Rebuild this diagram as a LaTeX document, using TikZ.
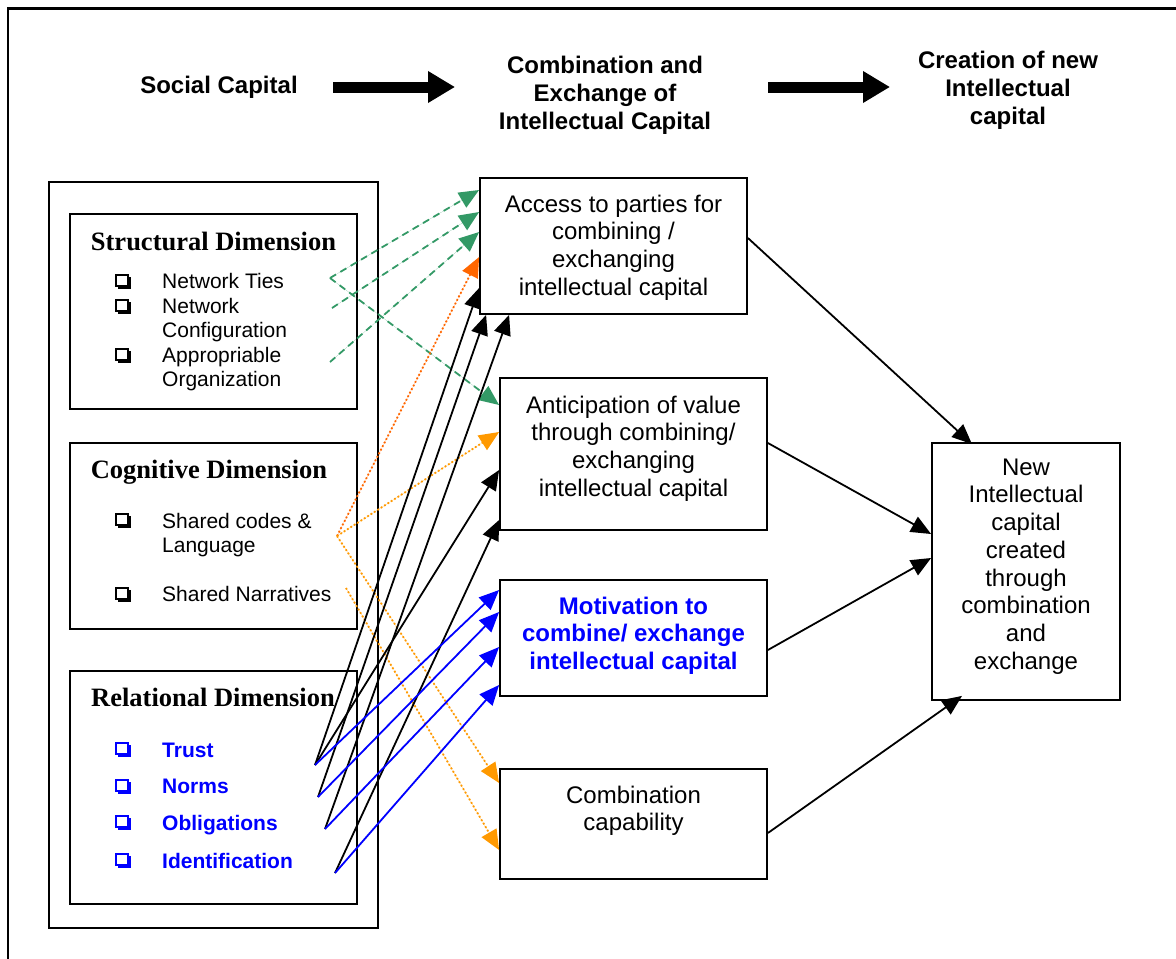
\documentclass[tikz,border=0pt]{standalone}
\usepackage{fontspec}
\setmainfont{Liberation Sans}
\newfontfamily\tmsfont{Liberation Serif}
\usetikzlibrary{arrows.meta,calc}

\definecolor{sgreen}{RGB}{51,153,102}
\definecolor{redorange}{RGB}{255,102,0}
\definecolor{lorange}{RGB}{255,153,0}
\definecolor{itemblue}{RGB}{0,0,255}

\begin{document}
\begin{tikzpicture}[x=1pt,y=-1pt,
  frame/.style={draw, line width=1.8pt, inner sep=0pt},
  hdr/.style={font=\fontsize{24}{28}\selectfont\bfseries, align=center, inner sep=0pt},
  btxt/.style={font=\fontsize{24}{27.7}\selectfont, align=center, inner sep=0pt, anchor=north},
  dimtitle/.style={font=\fontsize{26.5}{30}\selectfont\tmsfont\bfseries, inner sep=0pt, anchor=base},
  item/.style={font=\fontsize{21}{24.5}\selectfont, align=left, inner sep=0pt, anchor=base west},
  bitem/.style={item, font=\fontsize{21}{24.5}\selectfont\bfseries, text=itemblue},
  link/.style={line width=1.8pt, -{Triangle[length=20pt,width=17pt]}},
  gdash/.style={link, draw=sgreen, fill=sgreen, dash pattern=on 7pt off 5pt},
  odot/.style={link, dash pattern=on 1.8pt off 2.2pt},
  bigarrow/.style={line width=11pt, -{Triangle[length=27pt,width=30pt]}},
  cbx/.pic={
    \draw[line width=1.2pt] (-7,-6) rectangle (5,5);
    \draw[line width=2.6pt] (-5.5,6.3) -- (6.3,6.3) -- (6.3,-4.5);
  }
]
\useasboundingbox (0,0) rectangle (1176,959);
\clip (0,0) rectangle (1176,959);

% page frame (open to the right and bottom)
\draw[line width=2.2pt] (8,1000) -- (8,8.5) -- (1200,8.5);

% column headings
\node[hdr, anchor=base] (hsc) at (219,93.6) {Social Capital};
\node[hdr, anchor=north] (hce) at (605,56.4) {Combination and\\Exchange of\\Intellectual Capital};
\node[hdr, anchor=north] (hcr) at (1008,51.4) {Creation of new\\Intellectual\\capital};
\draw[bigarrow] (333,87) -- (455,87);
\draw[bigarrow] (768,87) -- (890,87);

% social capital dimensions
\node[frame, minimum width=329pt, minimum height=746pt] (soc) at (213.5,555) {};
\node[frame, minimum width=287pt, minimum height=195pt] (st) at (213.5,311.5) {};
\node[frame, minimum width=287pt, minimum height=186pt] (cg) at (213.5,536) {};
\node[frame, minimum width=287pt, minimum height=233pt] (rl) at (213.5,787.5) {};

\node[dimtitle] (stt) at (213.5,250) {Structural Dimension};
\node[dimtitle] (cgt) at (209,478) {Cognitive Dimension};
\node[dimtitle] (rlt) at (213,706) {Relational Dimension};

% items (multi-line items are placed by the baseline of their last line)
\pic at (123,281) {cbx};
\pic at (123,306) {cbx};
\pic at (123,355) {cbx};
\node[item] (ties) at (162,288) {Network Ties};
\node[item] (conf) at (162,337.5) {Network\\Configuration};
\node[item] (appr) at (162,386.5) {Appropriable\\Organization};

\pic at (123,520) {cbx};
\pic at (123,594) {cbx};
\node[item] (codes) at (162,552.5) {Shared codes \&\\Language};
\node[item] (narr) at (162,601) {Shared Narratives};

\pic[itemblue] at (123,749) {cbx};
\pic[itemblue] at (123,786) {cbx};
\pic[itemblue] at (123,822) {cbx};
\pic[itemblue] at (123,860) {cbx};
\node[bitem] (trust) at (162,757) {Trust};
\node[bitem] (norms) at (162,793) {Norms};
\node[bitem] (oblig) at (162,830) {Obligations};
\node[bitem] (ident) at (162,868) {Identification};

% combination and exchange conditions
\node[frame, minimum width=267pt, minimum height=136pt] (acc) at (613.5,246) {};
\node[frame, minimum width=267pt, minimum height=152pt] (ant) at (633.5,454) {};
\node[frame, minimum width=267pt, minimum height=116pt] (mot) at (633.5,638) {};
\node[frame, minimum width=267pt, minimum height=110pt] (cap) at (633.5,824) {};
\node[frame, minimum width=188pt, minimum height=257pt] (new) at (1026,571.5) {};

\node[btxt] (acct) at (613.5,194.5) {Access to parties for\\combining /\\exchanging\\intellectual capital};
\node[btxt] (antt) at (633.5,395.5) {Anticipation of value\\through combining/\\exchanging\\intellectual capital};
\node[btxt, font=\fontsize{24}{27.7}\selectfont\bfseries, text=itemblue] (mott) at (633.5,596.5) {Motivation to\\combine/ exchange\\intellectual capital};
\node[btxt] (capt) at (633.5,785.5) {Combination\\capability};
\node[btxt] (newt) at (1026,458.5) {New\\Intellectual\\capital\\created\\through\\combination\\and\\exchange};

% start points of the links
\coordinate (pT) at (330,278);
\coordinate (pC) at (332,308);
\coordinate (pA) at (330,362);
\coordinate (pS) at (337,536);
\coordinate (pN) at (346,588);
\coordinate (r1) at (315,765);
\coordinate (r2) at (318,797);
\coordinate (r3) at (325,829);
\coordinate (r4) at (335,873);

% structural links
\draw[gdash] (pT) -- ([yshift=56pt]acc.west);
\draw[gdash] (pC) -- ([yshift=34pt]acc.west);
\draw[gdash] (pA) -- ([yshift=14pt]acc.west);
\draw[gdash] (pT) -- ([yshift=49pt]ant.west);

% cognitive links
\draw[odot, draw=redorange, fill=redorange] (pS) -- ([yshift=-11pt]acc.west);
\draw[odot, draw=lorange, fill=lorange] (pS) -- ([yshift=22pt]ant.west);
\draw[odot, draw=lorange, fill=lorange] (pS) -- ([yshift=41pt]cap.west);
\draw[odot, draw=lorange, fill=lorange] (pN) -- ([yshift=-26pt]cap.west);

% relational links
\draw[link] (r1) -- ([yshift=-42pt]acc.west);
\draw[link] (r2) -- ([xshift=7pt]acc.south west);
\draw[link] (r3) -- ([xshift=30pt]acc.south west);
\draw[link] (r1) -- ([yshift=-16pt]ant.west);
\draw[link] (r4) -- ([yshift=-66pt]ant.west);
\draw[link, itemblue] (r1) -- ([yshift=48pt]mot.west);
\draw[link, itemblue] (r2) -- ([yshift=26pt]mot.west);
\draw[link, itemblue] (r3) -- ([yshift=-9pt]mot.west);
\draw[link, itemblue] (r4) -- ([yshift=-47pt]mot.west);

% outcome links
\draw[link] ([yshift=8pt]acc.east) -- ([xshift=-54pt,yshift=-2pt]new.north);
\draw[link] ([yshift=11pt]ant.east) -- ([yshift=37.5pt]new.west);
\draw[link] ([yshift=-12pt]mot.east) -- ([yshift=13.5pt]new.west);
\draw[link] ([yshift=-9pt]cap.east) -- ([xshift=-64pt,yshift=5pt]new.south);
\end{tikzpicture}
\end{document}
